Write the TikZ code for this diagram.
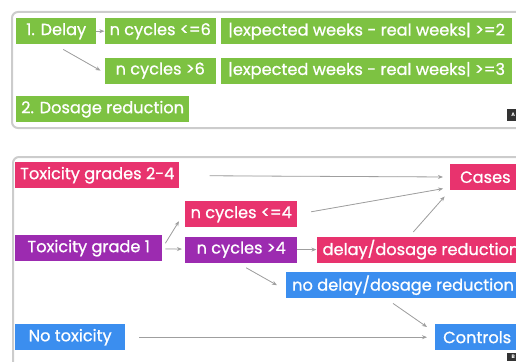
\documentclass[tikz,border=0pt]{standalone}
\usepackage{fontspec}
\setmainfont{Poppins}[UprightFeatures={FakeBold=0.9}]
\usetikzlibrary{positioning,arrows.meta}
\definecolor{leaf}{HTML}{7DC242}
\definecolor{rose}{HTML}{E8336E}
\definecolor{plum}{HTML}{9C2BB0}
\definecolor{sky}{HTML}{3B8EEF}
\begin{document}
\begin{tikzpicture}[
    x=1pt, y=-1pt,
    tag/.style={inner xsep=5pt, inner ysep=0pt, minimum height=26pt, text=white, font=\fontsize{16.2}{18}\selectfont, anchor=north west},
    arrow/.style={-{Stealth[length=5pt, width=4pt]}, draw=gray!75, fill=gray!75, line width=0.8pt},
    panel/.style={draw=gray!40, line width=2pt, rounded corners=6pt},
    corner/.style={fill=black!80, text=white, font=\tiny\bfseries, inner sep=0pt, minimum width=12pt, minimum height=12pt, anchor=north west},
]
\useasboundingbox (0,0) rectangle (516,361);
\clip (0,0) rectangle (516,361);

% Panels
\draw[panel] (12,12) rectangle (600,128);
\draw[panel] (13,157) rectangle (600,420);

% Delay / dosage reduction
\node[tag, fill=leaf, minimum width=80pt] (delay) at (16,18) {1. Delay};
\node[tag, fill=leaf, minimum width=111pt, right=8pt of delay] (cycsix) {n cycles <=6};
\node[tag, fill=leaf, inner xsep=7pt, right=5pt of cycsix] (weekstwo) {|expected weeks - real weeks| >=2};
\node[tag, fill=leaf, minimum width=111pt, below=13pt of cycsix] (cycmore) {n cycles >6};
\node[tag, fill=leaf, inner xsep=7pt, right=5pt of cycmore] (weeksthree) {|expected weeks - real weeks| >=3};
\node[tag, fill=leaf, minimum width=169pt] (dosage) at (16,96) {2. Dosage reduction};
\node[corner] (markA) at (507,109) {A};

\draw[arrow] (delay) -- (cycsix);
\draw[arrow] ([xshift=7pt, yshift=-5pt]delay.south) -- ([xshift=-4pt]cycmore.west);

% Cases / controls
\node[tag, fill=rose, minimum width=164pt] (grades) at (15,162) {Toxicity grades 2-4};
\node[tag, fill=plum, minimum width=147pt] (gradeone) at (15,235) {Toxicity grade 1};
\node[tag, fill=sky, minimum width=110pt] (notox) at (15,324) {No toxicity};
\node[tag, fill=rose, minimum width=112pt] (cycfour) at (185,201) {n cycles <=4};
\node[tag, fill=plum, minimum width=112pt, below=9pt of cycfour] (cycover) {n cycles >4};
\node[tag, fill=rose, inner xsep=6pt, right=19pt of cycover] (reduce) {delay/dosage reduction};
\node[tag, fill=sky, inner xsep=6pt] (noreduce) at (286,272) {no delay/dosage reduction};
\node[tag, fill=rose, inner xsep=10pt] (cases) at (450,164) {Cases};
\node[tag, fill=sky, inner xsep=8pt] (controls) at (435,324) {Controls};
\node[corner, minimum height=8pt] (markB) at (507,353) {B};

\draw[arrow, shorten <=30pt, shorten >=7pt] (grades) -- (cases);
\draw[arrow, shorten <=14pt, shorten >=7pt] (cycfour.east) -- ([yshift=3pt]cases.south west);
\draw[arrow, shorten <=6pt, shorten >=8pt] ([xshift=93pt]reduce.north west) -- (cases.south west);
\draw[arrow, shorten <=3pt, shorten >=3pt] (gradeone) -- (cycover);
\draw[arrow] ([xshift=3pt, yshift=5pt]gradeone.east) -- ([xshift=-6pt, yshift=-7pt]cycfour.west);
\draw[arrow] (cycover) -- (reduce);
\draw[arrow] ([xshift=5pt, yshift=-5pt]cycover.south) -- ([xshift=-9pt]noreduce.west);
\draw[arrow] ([xshift=107pt, yshift=-5pt]noreduce.south west) -- ([xshift=-8pt, yshift=-3pt]controls.north west);
\draw[arrow, shorten <=14pt, shorten >=8pt] (notox) -- (controls);

\end{tikzpicture}
\end{document}
